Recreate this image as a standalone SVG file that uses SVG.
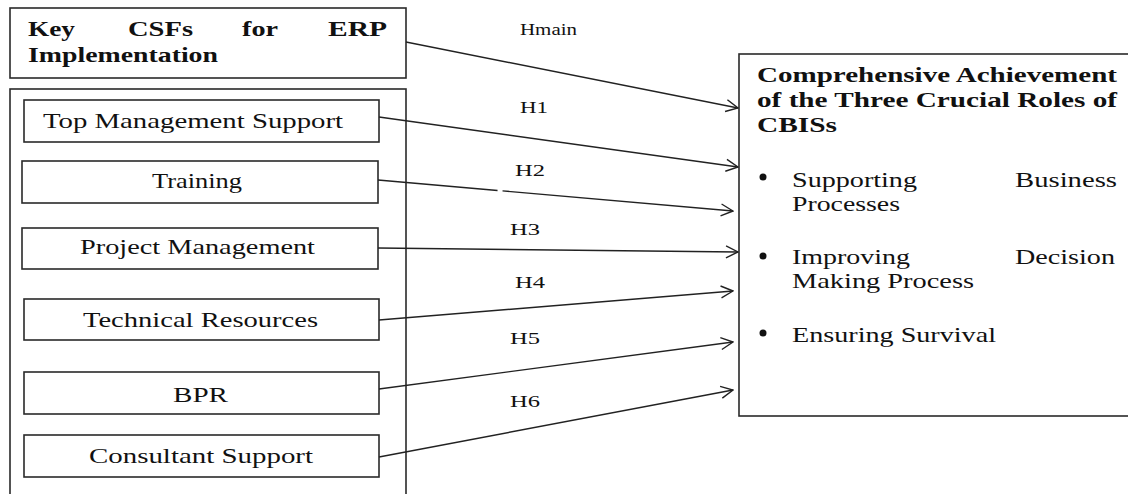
<svg xmlns="http://www.w3.org/2000/svg" width="1128" height="494" viewBox="0 0 1128 494">
<style>
.box{fill:#fff;stroke:#2a2a2a;stroke-width:1.6}
.t{font-family:"Liberation Serif","Times New Roman",serif;font-size:22px;fill:#111}
.b{font-family:"Liberation Serif","Times New Roman",serif;font-size:21px;font-weight:bold;fill:#111}
.lbl{font-family:"Liberation Serif","Times New Roman",serif;font-size:17px;fill:#111}
.c{stroke:#222;stroke-width:1.4;fill:none;marker-end:url(#ah)}
</style>
<defs>
<marker id="ah" viewBox="0 0 14 14" refX="13" refY="7" markerWidth="14" markerHeight="14" markerUnits="userSpaceOnUse" orient="auto">
<path d="M1,1 L13,7 L1,13" fill="none" stroke="#222" stroke-width="1.4"/>
</marker>
</defs>
<rect width="1128" height="494" fill="#fff"/>

<g id="csf-header">
<rect class="box" x="10" y="8" width="396" height="70"/>
<text class="b"><tspan x="28" y="36" textLength="47" lengthAdjust="spacingAndGlyphs">Key</tspan><tspan x="128" y="36" textLength="65" lengthAdjust="spacingAndGlyphs">CSFs</tspan><tspan x="242" y="36" textLength="36" lengthAdjust="spacingAndGlyphs">for</tspan><tspan x="328" y="36" textLength="59" lengthAdjust="spacingAndGlyphs">ERP</tspan></text>
<text class="b" x="28" y="62" textLength="190" lengthAdjust="spacingAndGlyphs">Implementation</text>
</g>

<g id="csf-group">
<rect class="box" x="10" y="89" width="396" height="420"/>
</g>

<g id="top-management">
<rect class="box" x="24" y="100" width="355" height="42"/>
<text class="t" x="43" y="128" textLength="300" lengthAdjust="spacingAndGlyphs">Top Management Support</text>
</g>
<g id="training">
<rect class="box" x="22" y="161" width="356" height="42"/>
<text class="t" x="152" y="188" textLength="90" lengthAdjust="spacingAndGlyphs">Training</text>
</g>
<g id="project-management">
<rect class="box" x="22" y="228" width="356" height="41"/>
<text class="t" x="80" y="254" textLength="235" lengthAdjust="spacingAndGlyphs">Project Management</text>
</g>
<g id="technical-resources">
<rect class="box" x="24" y="299" width="355" height="41"/>
<text class="t" x="83" y="327" textLength="235" lengthAdjust="spacingAndGlyphs">Technical Resources</text>
</g>
<g id="bpr">
<rect class="box" x="24" y="372" width="355" height="42"/>
<text class="t" x="173" y="402" textLength="55" lengthAdjust="spacingAndGlyphs">BPR</text>
</g>
<g id="consultant-support">
<rect class="box" x="24" y="435" width="355" height="42"/>
<text class="t" x="89" y="463" textLength="224" lengthAdjust="spacingAndGlyphs">Consultant Support</text>
</g>

<g id="outcome">
<rect class="box" x="739" y="54" width="400" height="362"/>
<text class="b" x="757" y="82" textLength="360" lengthAdjust="spacingAndGlyphs">Comprehensive Achievement</text>
<text class="b" x="757" y="107" textLength="360" lengthAdjust="spacingAndGlyphs">of the Three Crucial Roles of</text>
<text class="b" x="757" y="132" textLength="80" lengthAdjust="spacingAndGlyphs">CBISs</text>
<circle cx="763" cy="177" r="3.5" fill="#111"/>
<text class="t" x="792" y="187" textLength="125" lengthAdjust="spacingAndGlyphs">Supporting</text>
<text class="t" x="1015" y="187" textLength="102" lengthAdjust="spacingAndGlyphs">Business</text>
<text class="t" x="792" y="211" textLength="108" lengthAdjust="spacingAndGlyphs">Processes</text>
<circle cx="763" cy="256" r="3.5" fill="#111"/>
<text class="t" x="792" y="264" textLength="118" lengthAdjust="spacingAndGlyphs">Improving</text>
<text class="t" x="1015" y="264" textLength="100" lengthAdjust="spacingAndGlyphs">Decision</text>
<text class="t" x="792" y="288" textLength="182" lengthAdjust="spacingAndGlyphs">Making Process</text>
<circle cx="763" cy="333" r="3.5" fill="#111"/>
<text class="t" x="792" y="342" textLength="204" lengthAdjust="spacingAndGlyphs">Ensuring Survival</text>
</g>

<g id="connectors">
<line class="c" x1="406" y1="42" x2="738" y2="108"/>
<line class="c" x1="379" y1="117" x2="738" y2="167"/>
<line class="c" x1="378" y1="180" x2="733" y2="211" stroke-dasharray="120 5 400"/>
<line class="c" x1="378" y1="248" x2="738" y2="252"/>
<line class="c" x1="379" y1="320" x2="733" y2="291"/>
<line class="c" x1="379" y1="389" x2="733" y2="342"/>
<line class="c" x1="379" y1="457" x2="733" y2="390"/>
<text class="lbl" x="520" y="35" font-size="14" textLength="57" lengthAdjust="spacingAndGlyphs">Hmain</text>
<text class="lbl" x="520" y="113" textLength="28" lengthAdjust="spacingAndGlyphs">H1</text>
<text class="lbl" x="515" y="176" textLength="30" lengthAdjust="spacingAndGlyphs">H2</text>
<text class="lbl" x="510" y="235" textLength="30" lengthAdjust="spacingAndGlyphs">H3</text>
<text class="lbl" x="515" y="288" textLength="30" lengthAdjust="spacingAndGlyphs">H4</text>
<text class="lbl" x="510" y="344" textLength="30" lengthAdjust="spacingAndGlyphs">H5</text>
<text class="lbl" x="510" y="407" textLength="30" lengthAdjust="spacingAndGlyphs">H6</text>
</g>
</svg>
